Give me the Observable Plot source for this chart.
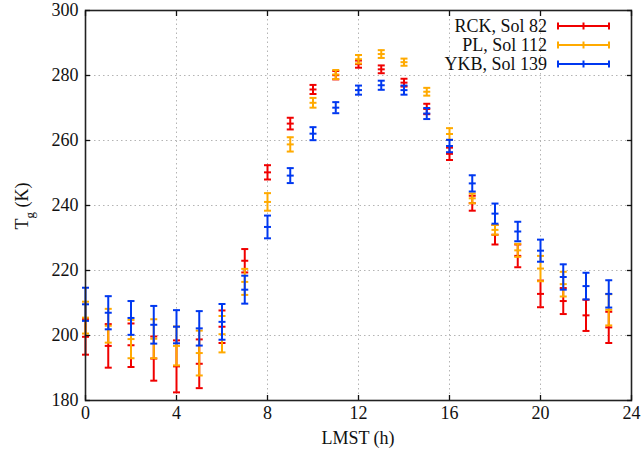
<!DOCTYPE html>
<html><head><meta charset="utf-8">
<script src="https://cdn.jsdelivr.net/npm/d3@7"></script>
<script src="https://cdn.jsdelivr.net/npm/@observablehq/plot@0.6"></script>
<style>
body{margin:0;background:#fff;}
#chart svg{display:block;}
</style></head><body><div id="chart"></div>
<script>
const hours = [0,1,2,3,4,5,6,7,8,9,10,11,12,13,14,15,16,17,18,19,20,21,22,23];
const rckT   = [199.6,196.8,197.0,192.9,190.5,191.3,202.7,223.0,250.2,265.2,275.7,280.1,283.5,281.9,277.8,269.7,255.9,240.7,231.0,224.5,212.8,210.6,206.2,202.5];
const rckErr = [5.5,6.7,6.7,6.8,8.0,7.5,5.0,3.6,2.2,1.8,1.4,1.3,1.1,1.2,1.2,1.6,1.9,2.3,3.0,3.5,4.1,4.0,4.8,4.8];
const plT    = [205.5,203.0,198.9,199.0,196.8,194.6,200.4,216.5,241.1,258.8,271.6,280.3,285.0,286.6,284.1,275.0,262.0,242.2,232.5,226.2,220.6,215.8,null,207.9];
const plErr  = [4.9,5.2,5.9,6.0,6.0,6.9,5.6,4.0,2.7,2.2,1.5,1.4,1.3,1.2,1.1,1.2,1.8,1.5,1.5,2.0,3.9,3.8,null,4.8];
const ykbT   = [209.6,207.0,205.4,203.3,202.7,202.2,204.2,214.1,233.4,249.2,262.1,270.1,275.5,277.0,275.5,268.3,258.3,246.8,237.5,232.0,226.1,218.0,215.2,212.8];
const ykbErr = [5.1,5.1,5.2,5.8,5.1,5.3,5.5,4.3,3.5,2.3,2.0,1.7,1.4,1.4,1.4,1.7,1.9,2.5,3.1,3.0,3.4,3.9,4.1,4.2];
const seriesNames = ["RCK, Sol 82","PL, Sol 112","YKB, Sol 139"];
const seriesColors = ["#f00000","#ffaa00","#0038f0"];
const xTicks = [0,4,8,12,16,20,24];
const yTicks = [180,200,220,240,260,280,300];
const xLabel = "LMST (h)";

const seriesVals = [[rckT,rckErr],[plT,plErr],[ykbT,ykbErr]];
const capSymbol = {draw(context, size){ const w = Math.sqrt(size/Math.PI); context.moveTo(-w,0); context.lineTo(w,0); }};

const marks = [
  Plot.gridX(xTicks, {stroke:"#b4b4b4", strokeOpacity:1, strokeWidth:1, strokeDasharray:"1.5,3"}),
  Plot.gridY(yTicks, {stroke:"#b4b4b4", strokeOpacity:1, strokeWidth:1, strokeDasharray:"1.5,3"})
];
seriesVals.forEach(([T,E],i) => {
  const rows = hours.map((h,j) => ({h, t:T[j], lo: T[j]==null?null:T[j]-E[j], hi: T[j]==null?null:T[j]+E[j]})).filter(d => d.t != null);
  const c = seriesColors[i];
  marks.push(
    Plot.ruleX(rows, {x:"h", y1:"lo", y2:"hi", stroke:c, strokeWidth:2}),
    Plot.dot(rows, {x:"h", y:"lo", symbol:capSymbol, r:3.5, stroke:c, strokeWidth:2, fill:"none"}),
    Plot.dot(rows, {x:"h", y:"hi", symbol:capSymbol, r:3.5, stroke:c, strokeWidth:2, fill:"none"}),
    Plot.dot(rows, {x:"h", y:"t", symbol:capSymbol, r:3.5, stroke:c, strokeWidth:2, fill:"none"})
  );
});
marks.push(
  Plot.frame({stroke:"#222", strokeWidth:1.6}),
  Plot.axisX(xTicks, {anchor:"bottom", tickSize:-5, tickPadding:11, label:null, strokeWidth:1.3}),
  Plot.axisX(xTicks, {anchor:"top", tickSize:-5, tickFormat:() => "", label:null, strokeWidth:1.3}),
  Plot.axisY(yTicks, {anchor:"left", tickSize:-5, tickPadding:12, label:null, strokeWidth:1.3}),
  Plot.axisY(yTicks, {anchor:"right", tickSize:-5, tickFormat:() => "", label:null, strokeWidth:1.3})
);

const chart = Plot.plot({
  width: 641, height: 457,
  marginLeft: 85, marginRight: 10, marginTop: 10, marginBottom: 57,
  style: {fontFamily: "'Liberation Serif', 'Times New Roman', serif", fontSize: "18px", color: "#111", background: "#fff"},
  x: {domain: [0,24]},
  y: {domain: [180,300]},
  marks
});
document.getElementById("chart").appendChild(chart);

const svg = d3.select(chart);
const font = "'Liberation Serif', 'Times New Roman', serif";
// axis titles
svg.append("text").attr("x", 358).attr("y", 444).attr("text-anchor","middle")
  .attr("font-family", font).attr("font-size", 18).attr("fill","#111").text(xLabel);
const yl = svg.append("text").attr("transform","translate(28,206) rotate(-90)").attr("text-anchor","middle")
  .attr("font-family", font).attr("font-size", 18).attr("fill","#111");
yl.append("tspan").text("T");
yl.append("tspan").attr("font-size", 13).attr("dy", 6).text("g");
yl.append("tspan").attr("dy", -6).text(" (K)");
// legend
const lg = svg.append("g").attr("font-family", font).attr("font-size", 18);
seriesNames.forEach((name,i) => {
  const y = 26 + i*19;
  const c = seriesColors[i];
  lg.append("text").attr("x", 547).attr("y", y + 6).attr("text-anchor","end").attr("fill","#111").text(name);
  lg.append("line").attr("x1",558).attr("x2",609).attr("y1",y).attr("y2",y).attr("stroke",c).attr("stroke-width",2);
  [558,583.5,609].forEach(x => lg.append("line").attr("x1",x).attr("x2",x).attr("y1",y-3.5).attr("y2",y+3.5).attr("stroke",c).attr("stroke-width",2));
});
</script></body></html>
